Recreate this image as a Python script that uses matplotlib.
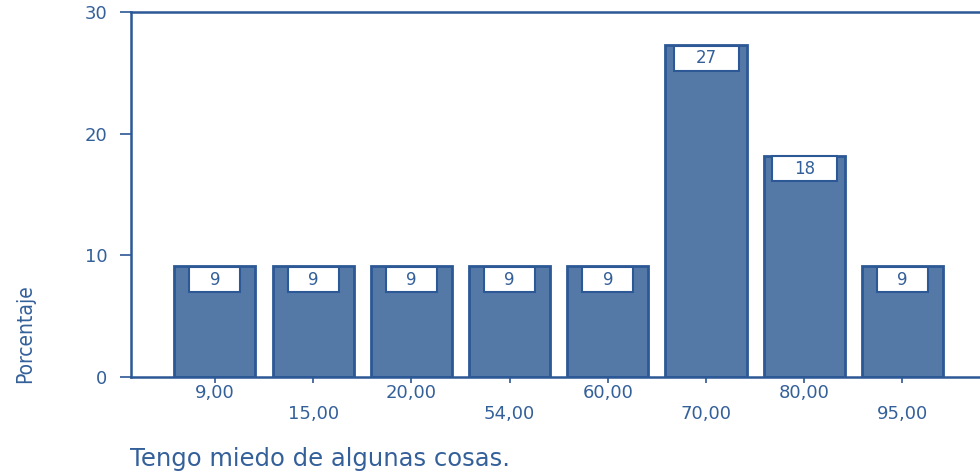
import matplotlib.pyplot as plt
from matplotlib.patches import Rectangle

categories = ['9,00', '15,00', '20,00', '54,00', '60,00', '70,00', '80,00', '95,00']
percent = [9.09, 9.09, 9.09, 9.09, 9.09, 27.27, 18.18, 9.09]
labels = ['9', '9', '9', '9', '9', '27', '18', '9']
yticks = [0, 10, 20, 30]

blue = '#2c5896'
face = '#5579a7'
txt = '#34609a'

fig = plt.figure(figsize=(9.8, 4.72), dpi=100)
ax = fig.add_axes([131 / 980, 95 / 472, 849 / 980, 365 / 472])

x = list(range(len(categories)))
ax.bar(x, percent, width=0.825, color=face, edgecolor=blue, linewidth=2, zorder=2)

ax.set_xlim(-0.855, 7.79)
ax.set_ylim(0, 30)
px = 849 / (7.79 + 0.855)  # pixels per x unit
py = 365 / 30              # pixels per y unit

for xi, v, lab in zip(x, percent, labels):
    w = (37 + 14 * len(lab)) / px
    h = 25 / py
    ax.add_patch(Rectangle((xi - w / 2, v - h - 0.05), w, h, facecolor='white',
                           edgecolor=blue, linewidth=1.5, zorder=3))
    ax.text(xi, v - h / 2 - 0.05, lab, ha='center', va='center', color=txt,
            fontsize=12, family='DejaVu Sans', zorder=4)

ax.set_yticks(yticks)
ax.set_yticklabels([str(t) for t in yticks], color=txt, fontsize=13, family='DejaVu Sans')
ax.set_xticks(x)
ax.set_xticklabels([c if i % 2 == 0 else '\n' + c for i, c in enumerate(categories)],
                   color=txt, fontsize=13, family='DejaVu Sans', linespacing=1.25)
ax.tick_params(axis='y', direction='out', length=8, width=1.2, color=blue, pad=9)
ax.tick_params(axis='x', direction='out', length=4, width=1.2, color=blue, pad=1)

for s in ['left', 'top', 'bottom']:
    ax.spines[s].set_color(blue)
    ax.spines[s].set_linewidth(1.8)
ax.spines['right'].set_visible(False)

fig.text(25 / 980, 1 - 334 / 472, 'Porcentaje', rotation=90, ha='center', va='center',
         color=txt, fontsize=15, family=['Liberation Sans Narrow', 'DejaVu Sans'],
         stretch='condensed')
fig.text(130 / 980, 1 - 459 / 472, 'Tengo miedo de algunas cosas.', ha='left', va='center',
         color=txt, fontsize=17.5, family='DejaVu Sans')

fig.savefig('out.png', dpi=100)
